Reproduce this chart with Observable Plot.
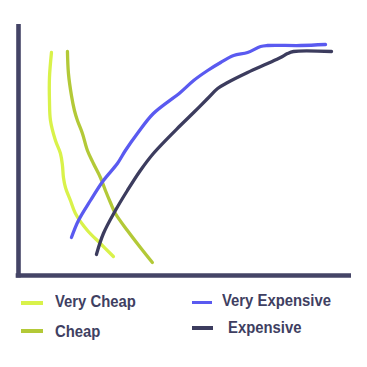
<!DOCTYPE html>
<html>
<head>
<meta charset="utf-8">
<script src="https://cdn.jsdelivr.net/npm/d3@7"></script>
<script src="https://cdn.jsdelivr.net/npm/@observablehq/plot@0.6"></script>
<style>
  html, body { margin: 0; padding: 0; background: #fff; }
  #wrap { position: relative; width: 367px; height: 367px; font-family: "Liberation Sans", Arial, sans-serif; }
  #chart { position: absolute; left: 0; top: 0; }
  .leg { position: absolute; font-weight: bold; font-size: 16.5px; color: #3f3f62; line-height: 1; white-space: nowrap; transform: scaleX(0.9); transform-origin: 0 0; }
  .sw { position: absolute; height: 3.5px; }
</style>
</head>
<body>
<div id="wrap">
  <div id="chart"></div>
  <div id="legend"></div>
</div>
<script>
const seriesNames = ["Very Cheap", "Cheap", "Very Expensive", "Expensive"];
const seriesColors = ["#d9f24a", "#b3c937", "#5a5af0", "#3c3c5e"];

const veryCheapX = [9.9, 9.3, 9.3, 9.6, 11.1, 12.6, 13.2, 13.5, 14.1, 15.6, 17.1, 20.7, 24.6, 28.5];
const veryCheapY = [89.2, 79.2, 70, 62, 54, 48.8, 44, 39.2, 35.2, 30, 24.8, 18, 12.8, 7.6];

const cheapX = [14.7, 15.0, 15.9, 16.8, 17.7, 19.2, 20.7, 22.5, 24.6, 26.1, 27.6, 29.1, 32.7, 36.6, 40.2];
const cheapY = [89.6, 80.8, 72, 66, 62, 56.8, 50, 44.8, 39.2, 34, 29.2, 24.8, 18, 11.2, 5.2];

const veryExpX = [15.9, 18.0, 21.6, 25.5, 29.7, 32.1, 35.7, 40.5, 48.6, 52.6, 56.8, 60.7, 64.6, 68.8, 72.7, 74.8, 84.7, 92.2];
const veryExpY = [15.2, 22, 30, 38, 44.8, 50, 56.8, 64.8, 73.2, 78, 82, 85.2, 88, 89.2, 91.6, 92, 92, 92.4];

const expX = [23.4, 25.5, 29.1, 32.7, 36.6, 40.5, 48.6, 52.6, 56.8, 59.8, 62.8, 68.8, 74.8, 78.7, 80.8, 82.6, 94.0];
const expY = [8.4, 16.8, 26, 34, 42, 48.8, 60, 65.2, 70.8, 74.8, 77.2, 81.2, 84.8, 87.2, 88.8, 89.6, 89.6];

const toRows = (name, xs, ys) => xs.map((x, i) => ({series: name, x, y: ys[i]}));
const data = [
  ...toRows("Very Cheap", veryCheapX, veryCheapY),
  ...toRows("Cheap", cheapX, cheapY),
  ...toRows("Very Expensive", veryExpX, veryExpY),
  ...toRows("Expensive", expX, expY)
];

const plot = Plot.plot({
  width: 367,
  height: 285,
  marginLeft: 18,
  marginRight: 16,
  marginTop: 25,
  marginBottom: 10,
  x: {domain: [0, 100], axis: null},
  y: {domain: [0, 100], axis: null},
  color: {domain: seriesNames, range: seriesColors},
  marks: [
    Plot.line(data, {x: "x", y: "y", z: "series", stroke: "series", strokeWidth: 3.3, curve: "catmull-rom", strokeLinecap: "round", strokeLinejoin: "round"}),
    Plot.ruleX([0], {y1: -1, y2: 100.4, stroke: "#444466", strokeWidth: 4.6}),
    Plot.ruleY([0], {x1: -0.7, x2: 100, stroke: "#444466", strokeWidth: 4.6})
  ]
});
document.getElementById("chart").appendChild(plot);

// Legend (HTML below the SVG)
const legendPos = [
  {sx: 21, sy: 301, sw: 22, h: 3.5, tx: 55, ty: 293},
  {sx: 21, sy: 329, sw: 22, h: 3.5, tx: 55, ty: 323},
  {sx: 192, sy: 301, sw: 20, h: 3, tx: 222, ty: 292},
  {sx: 192, sy: 326, sw: 21, h: 4, tx: 228, ty: 319}
];
const leg = document.getElementById("legend");
seriesNames.forEach((name, i) => {
  const p = legendPos[i];
  const s = document.createElement("div");
  s.className = "sw";
  s.style.left = p.sx + "px";
  s.style.top = p.sy + "px";
  s.style.width = p.sw + "px";
  s.style.height = p.h + "px";
  s.style.background = seriesColors[i];
  leg.appendChild(s);
  const t = document.createElement("div");
  t.className = "leg";
  t.style.left = p.tx + "px";
  t.style.top = p.ty + "px";
  t.textContent = name;
  leg.appendChild(t);
});
</script>
</body>
</html>
